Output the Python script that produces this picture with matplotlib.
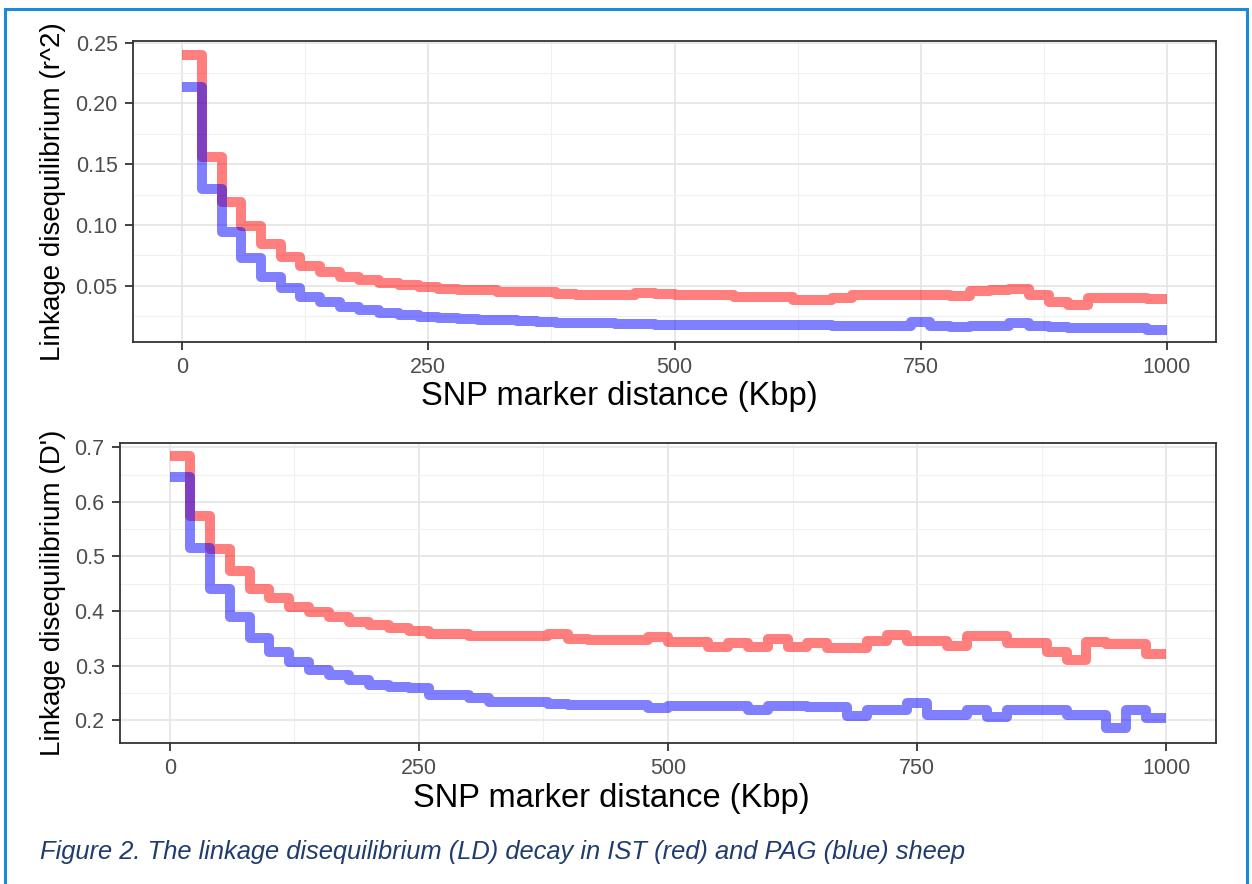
import matplotlib
matplotlib.use("Agg")
import matplotlib.pyplot as plt
from matplotlib.patches import Rectangle
import numpy as np

plt.rcParams["font.family"] = ["Liberation Sans", "DejaVu Sans"]

# bin start positions (Kbp), 20 Kbp windows
dist = np.arange(0, 1001, 20)

# r^2 per window
r2_ist = [0.240, 0.156, 0.119, 0.099, 0.084, 0.074, 0.066, 0.0615, 0.0575, 0.055,
          0.052, 0.0505, 0.049, 0.0475, 0.0465, 0.0465, 0.045, 0.045, 0.0452, 0.043,
          0.0425, 0.0423, 0.042, 0.0437, 0.0435, 0.042, 0.0423, 0.042, 0.041, 0.041,
          0.041, 0.038, 0.0385, 0.0395, 0.042, 0.042, 0.0425, 0.042, 0.042, 0.0415,
          0.0455, 0.0465, 0.047, 0.0425, 0.037, 0.034, 0.0395, 0.0395, 0.040, 0.039]
r2_pag = [0.2135, 0.130, 0.0945, 0.0726, 0.0574, 0.0478, 0.041, 0.0368, 0.0327, 0.030,
          0.0278, 0.026, 0.024, 0.0235, 0.023, 0.022, 0.0215, 0.021, 0.020, 0.0195,
          0.019, 0.019, 0.0185, 0.0185, 0.018, 0.0178, 0.0178, 0.0177, 0.0177, 0.0175,
          0.0178, 0.0175, 0.0178, 0.017, 0.0172, 0.0168, 0.0172, 0.020, 0.0165, 0.0163,
          0.0165, 0.0168, 0.019, 0.0165, 0.0158, 0.0155, 0.0155, 0.0152, 0.015, 0.0135]

# D' per window
d_ist = [0.685, 0.574, 0.513, 0.474, 0.441, 0.423, 0.408, 0.3985, 0.389, 0.380,
         0.374, 0.368, 0.363, 0.3576, 0.3576, 0.355, 0.354, 0.354, 0.354, 0.357,
         0.348, 0.347, 0.3465, 0.346, 0.3527, 0.3435, 0.3435, 0.334, 0.3417, 0.334,
         0.348, 0.334, 0.3405, 0.333, 0.333, 0.3454, 0.3558, 0.345, 0.345, 0.336,
         0.354, 0.354, 0.3405, 0.3405, 0.325, 0.310, 0.3435, 0.340, 0.340, 0.321]
d_pag = [0.646, 0.515, 0.441, 0.389, 0.350, 0.325, 0.307, 0.2916, 0.2824, 0.2733,
         0.264, 0.261, 0.258, 0.2457, 0.2457, 0.2397, 0.2335, 0.2335, 0.2335, 0.2292,
         0.2274, 0.2274, 0.2274, 0.2274, 0.2213, 0.2256, 0.2256, 0.2256, 0.2256, 0.2183,
         0.2256, 0.2256, 0.2243, 0.2243, 0.2078, 0.218, 0.218, 0.2305, 0.209, 0.209,
         0.219, 0.206, 0.218, 0.218, 0.218, 0.209, 0.209, 0.1847, 0.218, 0.203]

xticks = [0, 250, 500, 750, 1000]
caption = "Figure 2. The linkage disequilibrium (LD) decay in IST (red) and PAG (blue) sheep"

W, H = 1252, 884
fig = plt.figure(figsize=(W / 100, H / 100), dpi=100)


def px_axes(left, top, right, bottom):
    return fig.add_axes([left / W, 1 - bottom / H, (right - left) / W, (bottom - top) / H])


def style(ax, ylim, yticks, yminor, ylabels):
    ax.set_xlim(-50, 1050)
    ax.set_ylim(*ylim)
    ax.set_xticks(xticks)
    ax.set_xticks([125, 375, 625, 875], minor=True)
    ax.set_yticks(yticks)
    ax.set_yticklabels(ylabels)
    ax.set_yticks(yminor, minor=True)
    ax.grid(which="major", color="#e6e6e6", linewidth=1.3, zorder=0)
    ax.grid(which="minor", color="#f0f0f0", linewidth=0.8, zorder=0)
    ax.set_axisbelow(True)
    for s in ax.spines.values():
        s.set_color("#333333")
        s.set_linewidth(1.3)
    ax.tick_params(which="major", length=6, width=1.3, color="#333333",
                   labelsize=15.5, labelcolor="#4d4d4d", pad=5)
    ax.tick_params(which="minor", length=0)


def draw(ax, ist, pag):
    ax.step(dist, list(ist) + [ist[-1]], where="post", color="red", alpha=0.5,
            linewidth=7.2, solid_joinstyle="round", solid_capstyle="butt", zorder=3)
    ax.step(dist, list(pag) + [pag[-1]], where="post", color="blue", alpha=0.5,
            linewidth=7.2, solid_joinstyle="round", solid_capstyle="butt", zorder=3)


ax1 = px_axes(133, 41, 1216, 342)
draw(ax1, r2_ist, r2_pag)
style(ax1, (0.0037, 0.2514), [0.05, 0.10, 0.15, 0.20, 0.25],
      [0.025, 0.075, 0.125, 0.175, 0.225], ["0.05", "0.10", "0.15", "0.20", "0.25"])

ax2 = px_axes(120, 443, 1216, 743)
draw(ax2, d_ist, d_pag)
style(ax2, (0.158, 0.708), [0.2, 0.3, 0.4, 0.5, 0.6, 0.7],
      [0.25, 0.35, 0.45, 0.55, 0.65], ["0.2", "0.3", "0.4", "0.5", "0.6", "0.7"])

# axis titles
fig.text(619 / W, 1 - 397 / H, "SNP marker distance (Kbp)", ha="center", va="center", fontsize=23.5)
fig.text(53 / W, 1 - 192 / H, "Linkage disequilibrium (r^2)", ha="center", va="center",
         rotation=90, fontsize=20)
fig.text(611 / W, 1 - 798 / H, "SNP marker distance (Kbp)", ha="center", va="center", fontsize=23.5)
fig.text(53 / W, 1 - 593 / H, "Linkage disequilibrium (D')", ha="center", va="center",
         rotation=90, fontsize=20)

fig.text(40 / W, 1 - 852 / H, caption, ha="left", va="center", fontsize=18.4,
         style="italic", color="#1f3c6e")

fig.patches.append(Rectangle((5 / W, -0.02), 1242 / W, 1.02 - 9 / H, transform=fig.transFigure,
                             fill=False, edgecolor="#1b8ad8", linewidth=2.2))

fig.savefig("out.png", dpi=100)
